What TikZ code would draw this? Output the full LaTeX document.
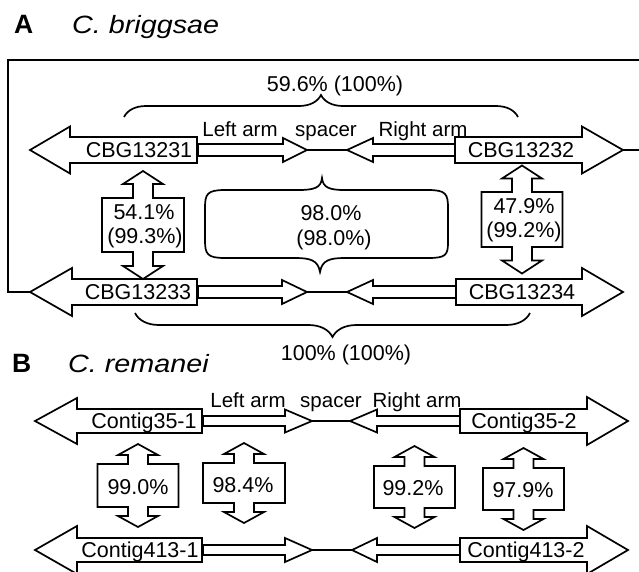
\documentclass[tikz,border=0pt]{standalone}
\usepackage{fontspec}
\setmainfont{Liberation Sans}
\usepackage{graphicx}
\usetikzlibrary{decorations.pathreplacing}
\tikzset{
  outl/.style={draw=black, line width=1.7pt, fill=white, line join=miter},
  lbl/.style={inner sep=0pt, anchor=base, font=\fontsize{21.5}{24}\selectfont},
  armlbl/.style={inner sep=0pt, anchor=base, font=\fontsize{20.5}{24}\selectfont},
  paneltitle/.style={inner sep=0pt, anchor=base west, font=\fontsize{25}{28}\selectfont},
  framel/.style={line width=2.4pt},
  spacerl/.style={line width=2.2pt},
  brc/.style={decorate, line width=1.7pt, decoration={brace, amplitude=#1}},
}
% horizontal arrow: tip x, head base x, shaft end x, y, head half height, shaft half height
\newcommand{\harr}[6]{%
  \draw[outl] (#1,#4) -- (#2,{#4-#5}) -- (#2,{#4-#6}) -- (#3,{#4-#6}) --
    (#3,{#4+#6}) -- (#2,{#4+#6}) -- (#2,{#4+#5}) -- cycle;}
% vertical double arrow with box: cx, cy, box half width, box half height, neck, head length
\newcommand{\vdarr}[6]{%
  \draw[outl] ({#1},{#2-#4-#5-#6}) -- ({#1+20},{#2-#4-#5}) -- ({#1+10},{#2-#4-#5}) --
    ({#1+10},{#2-#4}) -- ({#1+#3},{#2-#4}) -- ({#1+#3},{#2+#4}) -- ({#1+10},{#2+#4}) --
    ({#1+10},{#2+#4+#5}) -- ({#1+20},{#2+#4+#5}) -- ({#1},{#2+#4+#5+#6}) --
    ({#1-20},{#2+#4+#5}) -- ({#1-10},{#2+#4+#5}) -- ({#1-10},{#2+#4}) --
    ({#1-#3},{#2+#4}) -- ({#1-#3},{#2-#4}) -- ({#1-10},{#2-#4}) --
    ({#1-10},{#2-#4-#5}) -- ({#1-20},{#2-#4-#5}) -- cycle;}
\begin{document}
\begin{tikzpicture}[x=1pt,y=-1pt]
\clip (0,0) rectangle (639,571);
\fill[white] (0,0) rectangle (639,571);

% ---------- Panel A ----------
\node[paneltitle, font=\bfseries\fontsize{26.5}{28}\selectfont] (tA) at (14,33) {A};
\node[paneltitle] (spA) at (72,33) {\scalebox{1.15}[1]{\itshape C. briggsae}};

% frame
\coordinate (fr1) at (639,60);
\coordinate (fr2) at (8,60);
\coordinate (fr3) at (8,292);
\coordinate (fr4) at (30,292);
\draw[framel] (fr1) -- (fr2) -- (fr3) -- (fr4);
\coordinate (fr5) at (623,150);
\coordinate (fr6) at (639,150);
\draw[spacerl] (fr5) -- (fr6);

% row 1
\coordinate (a1l) at (307,150);
\coordinate (a1r) at (347,150);
\draw[spacerl] (a1l) -- (a1r);
\harr{30}{70}{197}{150}{23.5}{13}
\harr{307}{283}{198}{150}{12}{6}
\harr{347}{373}{455}{150}{12}{6}
\harr{623}{582}{455}{150}{23.5}{13}
\node[lbl] (g1) at (139,157.5) {CBG13231};
\node[lbl] (g2) at (521,157.5) {CBG13232};
\node[armlbl] (la1) at (240,136) {Left arm};
\node[armlbl] (sp1) at (326,136) {spacer};
\node[armlbl] (ra1) at (423,136) {Right arm};

% row 2
\coordinate (a2l) at (307,292);
\coordinate (a2r) at (347,292);
\draw[spacerl] (a2l) -- (a2r);
\harr{30}{72}{197}{292}{24}{13}
\harr{307}{282}{198}{292}{12}{6}
\harr{347}{373}{456}{292}{12}{6}
\harr{623}{582}{456}{292}{24}{13}
\node[lbl] (g3) at (138,299.5) {CBG13233};
\node[lbl] (g4) at (522,299.5) {CBG13234};

% top brace
\coordinate (b1s) at (124,117);
\coordinate (b1e) at (518,117);
\draw[brc=22] (b1s) -- (b1e);
\node[lbl] (pc1) at (335,91) {59.6\% (100\%)};

% bottom brace
\coordinate (b2s) at (530,313);
\coordinate (b2e) at (135,313);
\draw[brc=24] (b2s) -- (b2e);
\node[lbl] (pc2) at (346,360) {100\% (100\%)};

% vertical double arrows panel A
\vdarr{143}{225}{41}{27}{14}{13}
\node[lbl] (pA1a) at (144,219) {54.1\%};
\node[lbl] (pA1b) at (145,243) {(99.3\%)};
\vdarr{522}{219.5}{40.5}{27.5}{13.5}{13}
\node[lbl] (pA2a) at (524,213) {47.9\%};
\node[lbl] (pA2b) at (524,237.5) {(99.2\%)};

% middle brace box
\draw[line width=1.7pt]
  (322,178) .. controls (323,188) and (330,190) .. (345,190) -- (428,190)
  .. controls (446,190) and (448,194) .. (448,208) -- (448,242)
  .. controls (448,255) and (446,258) .. (428,258) -- (345,258)
  .. controls (330,258) and (322,260) .. (320,272)
  .. controls (318,260) and (310,258) .. (295,258) -- (225,258)
  .. controls (207,258) and (205,254) .. (205,240) -- (205,208)
  .. controls (205,194) and (207,190) .. (225,190) -- (298,190)
  .. controls (314,190) and (321,188) .. (322,178) -- cycle;
\node[lbl] (pm1) at (331,220) {98.0\%};
\node[lbl] (pm2) at (334,245) {(98.0\%)};

% ---------- Panel B ----------
\node[paneltitle, font=\bfseries\fontsize{26.5}{28}\selectfont] (tB) at (12,372) {B};
\node[paneltitle] (spB) at (68,372) {\scalebox{1.15}[1]{\itshape C. remanei}};

% row 3
\coordinate (a3l) at (312,421);
\coordinate (a3r) at (350,421);
\draw[spacerl] (a3l) -- (a3r);
\harr{35}{77}{202}{421}{23}{12}
\harr{312}{285}{203}{421}{11.5}{5}
\harr{350}{377}{460}{421}{11.5}{5}
\harr{628}{587}{460}{421}{24}{12}
\node[lbl] (c1) at (144,428.5) {Contig35-1};
\node[lbl] (c2) at (524,428.5) {Contig35-2};
\node[armlbl] (la2) at (248,407) {Left arm};
\node[armlbl] (sp2) at (331,407) {spacer};
\node[armlbl] (ra2) at (417,407) {Right arm};

% row 4
\coordinate (a4l) at (312,550);
\coordinate (a4r) at (352,550);
\draw[spacerl] (a4l) -- (a4r);
\harr{35}{77}{202}{550}{24}{12}
\harr{312}{285}{203}{550}{12}{5}
\harr{352}{377}{460}{550}{12}{5}
\harr{628}{587}{460}{550}{24}{12}
\node[lbl] (c3) at (140,557.5) {Contig413-1};
\node[lbl] (c4) at (526,557.5) {Contig413-2};

% vertical double arrows panel B
\vdarr{138}{485.5}{40.5}{21.5}{9}{11}
\node[lbl] (pB1) at (138,494) {99.0\%};
\vdarr{244}{483}{41}{20}{9}{11}
\node[lbl] (pB2) at (243,492) {98.4\%};
\vdarr{414.5}{487}{40.5}{21}{9}{11}
\node[lbl] (pB3) at (413,495) {99.2\%};
\vdarr{523.5}{489}{40.5}{21}{9}{11}
\node[lbl] (pB4) at (523,497) {97.9\%};
\end{tikzpicture}
\end{document}
